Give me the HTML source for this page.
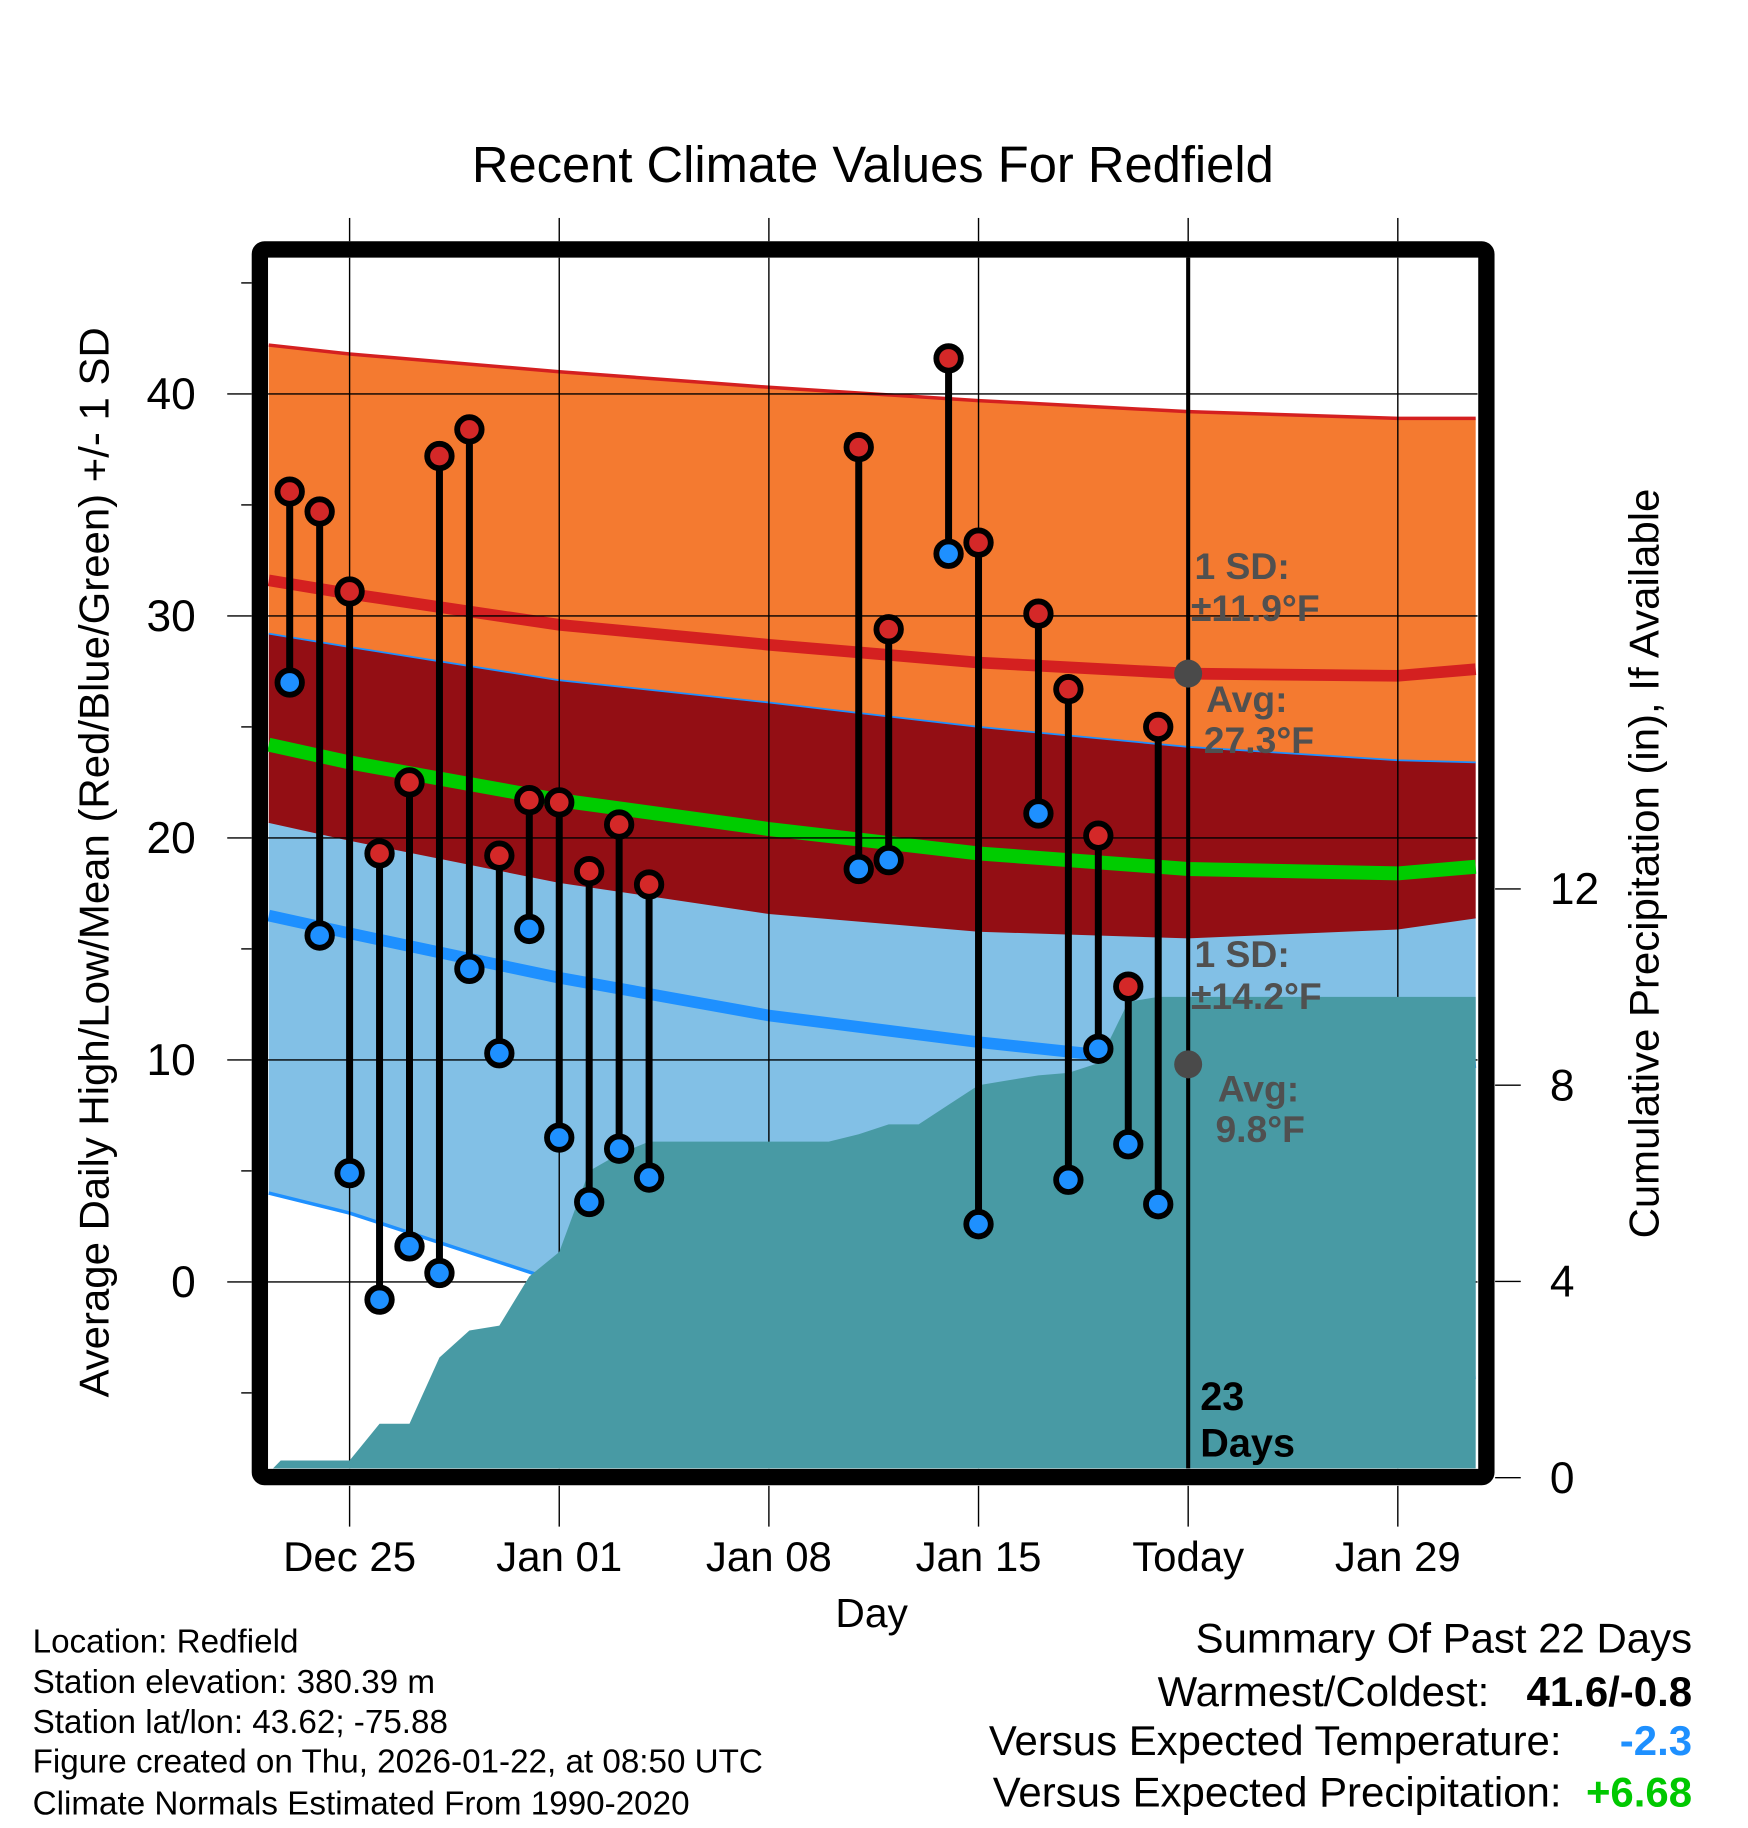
<!DOCTYPE html>
<html><head><meta charset="utf-8"><style>
html,body{margin:0;padding:0;background:#fff}
svg{display:block;font-family:"Liberation Sans",Arial,sans-serif}
</style></head><body>
<svg id="chart" width="1748" height="1828" viewBox="0 0 1500 1568.6" xmlns="http://www.w3.org/2000/svg">
<rect width="1500" height="1568.6" fill="#fff"/>
<text x="749" y="156" font-size="43.5" text-anchor="middle">Recent Climate Values For Redfield</text>
<g id="plot"></g>
<text transform="translate(93,740) rotate(-90)" font-size="36" text-anchor="middle">Average Daily High/Low/Mean (Red/Blue/Green) +/- 1 SD</text>
<text transform="translate(1423,741) rotate(-90)" font-size="36" text-anchor="middle">Cumulative Precipitation (in), If Available</text>
<text x="748" y="1396" font-size="35" text-anchor="middle">Day</text>
<g font-size="28.5">
<text x="28" y="1418">Location: Redfield</text>
<text x="28" y="1453">Station elevation: 380.39 m</text>
<text x="28" y="1487">Station lat/lon: 43.62; -75.88</text>
<text x="28" y="1521">Figure created on Thu, 2026-01-22, at 08:50 UTC</text>
<text x="28" y="1557">Climate Normals Estimated From 1990-2020</text>
</g>
<g font-size="36">
<text x="1452" y="1418" text-anchor="end">Summary Of Past 22 Days</text>
<text x="1278" y="1464" text-anchor="end">Warmest/Coldest:</text>
<text x="1452" y="1464" text-anchor="end" font-weight="bold">41.6/-0.8</text>
<text x="1340" y="1506" text-anchor="end">Versus Expected Temperature:</text>
<text x="1452" y="1506" text-anchor="end" font-weight="bold" fill="#1e90ff">-2.3</text>
<text x="1340" y="1550" text-anchor="end">Versus Expected Precipitation:</text>
<text x="1452" y="1550" text-anchor="end" font-weight="bold" fill="#00c800">+6.68</text>
</g>
</svg>
<script>
// ---- data ----
const dayLabels = ["Dec 25","Jan 01","Jan 08","Jan 15","Today","Jan 29"];
const labelDays = [0,7,14,21,28,35];
const obsDays = [-2,-1,0,1,2,3,4,5,6,7,8,9,10,17,18,20,21,23,24,25,26,27];
const highs = [35.6,34.7,31.1,19.3,22.5,37.2,38.4,19.2,21.7,21.6,18.5,20.6,17.9,37.6,29.4,41.6,33.3,30.1,26.7,20.1,13.3,25.0];
const lows  = [27.0,15.6,4.9,-0.8,1.6,0.4,14.1,10.3,15.9,6.5,3.6,6.0,4.7,18.6,19.0,32.8,2.6,21.1,4.6,10.5,6.2,3.5];
const normDays = [-2.7,0,7,14,21,28,35,37.6];
const hiPlusSD = [42.2,41.8,41.0,40.3,39.7,39.2,38.9,38.9];
const meanHi   = [31.6,31.0,29.6,28.7,27.9,27.4,27.3,27.6];
const hiMinusSD= [29.2,28.6,27.1,26.1,25.0,24.1,23.5,23.4];
const meanMid  = [24.2,23.4,21.7,20.4,19.3,18.6,18.4,18.7];
const loPlusSD = [20.7,19.9,18.0,16.6,15.8,15.5,15.9,16.4];
const meanLo   = [16.5,15.7,13.7,12.0,10.8,9.8,9.6,9.9];
const loMinusSD= [4.0,3.1,0.0,-2.0,-3.4,-4.4,-4.6,-4.3];
const precipDays = [-2.7,-2.3,0,1,2,3,4,5,6,7,8,9,10,16,17,18,19,20,21,22,23,24,25,26,27,37.6];
const precipVals = [0.1,0.35,0.35,1.1,1.1,2.45,3.0,3.1,4.1,4.6,6.25,6.6,6.85,6.85,7.0,7.2,7.2,7.6,8.0,8.1,8.2,8.25,8.45,9.7,9.8,9.8];
const yTicks = [0,10,20,30,40];
const y2Ticks = [0,4,8,12];

// ---- axes ----
const X = d => 300 + d*25.7;
const Y = v => 1100 - v*19.05;
const Y2 = p => 1268 - p*42.1;
const L=230,R=1268,T=221,B=1260;
const NS="http://www.w3.org/2000/svg";
const plot=document.getElementById('plot');
function mk(tag,attrs,parent){const e=document.createElementNS(NS,tag);for(const k in attrs)e.setAttribute(k,attrs[k]);(parent||plot).appendChild(e);return e;}
const defs=mk('defs',{});
const cp=mk('clipPath',{id:'clip'},defs);mk('rect',{x:L,y:T,width:R-L,height:B-T},cp);
const g=mk('g',{'clip-path':'url(#clip)'});


function line(arr,f){return normDays.map((d,i)=>X(d)+','+f(arr[i])).join(' ');}
function band(a,b,fill,name){const pts=line(a,Y)+' '+normDays.map((d,i)=>X(d)+','+Y(b[i])).reverse().join(' ');const p=mk('polygon',{points:pts,fill:fill},g);

}
band(hiPlusSD,hiMinusSD,'#f47a30','high-sd-band');
band(hiMinusSD,loPlusSD,'#930e14','overlap-band');
band(loPlusSD,loMinusSD,'#82c0e6','low-sd-band');
function pl(arr,col,w,name){const p=mk('polyline',{points:line(arr,Y),fill:'none',stroke:col,'stroke-width':w},g);

}
pl(hiPlusSD,'#d42020',3,'high-plus-sd-line');
pl(meanHi,'#d42020',10,'mean-high-line');
pl(hiMinusSD,'#1e90ff',1.5,'high-minus-sd-line');
pl(loPlusSD,'#930e14',1,'low-plus-sd-line');
pl(meanMid,'#00cc00',12,'mean-line');
pl(meanLo,'#1e90ff',10,'mean-low-line');
pl(loMinusSD,'#1e90ff',3,'low-minus-sd-line');
// gridlines
yTicks.forEach(v=>{mk('line',{x1:L,x2:R,y1:Y(v),y2:Y(v),stroke:'#000','stroke-width':1.2},g);});
labelDays.forEach(d=>{mk('line',{x1:X(d),x2:X(d),y1:T,y2:B,stroke:'#000','stroke-width':1.2},g);});
// precip
const pp=precipDays.map((d,i)=>X(d)+','+Y2(precipVals[i])).join(' ')+' '+X(37.6)+','+Y2(0)+' '+X(-2.7)+','+Y2(0);
const pa=mk('polygon',{points:pp,fill:'#489aa4'},g);


// today line
const tl=mk('line',{x1:X(28),x2:X(28),y1:T,y2:B,stroke:'#000','stroke-width':3.5});


// outside ticks
labelDays.forEach((d,i)=>{
 mk('line',{x1:X(d),x2:X(d),y1:187,y2:207,stroke:'#000','stroke-width':1.2});
 mk('line',{x1:X(d),x2:X(d),y1:1275,y2:1310,stroke:'#000','stroke-width':1.2});
 const t=mk('text',{x:X(d),y:1348,'font-size':36,'text-anchor':'middle'});t.textContent=dayLabels[i];
 
 
});
for(let v=-5;v<=45;v+=5){const major=v%10===0;mk('line',{x1:major?195:207,x2:216,y1:Y(v),y2:Y(v),stroke:'#000','stroke-width':1.2});}
yTicks.forEach(v=>{const t=mk('text',{x:168,y:Y(v)+13,'font-size':38,'text-anchor':'end'});t.textContent=v;
 
 });
y2Ticks.forEach(p=>{mk('line',{x1:1283,x2:1305,y1:Y2(p),y2:Y2(p),stroke:'#000','stroke-width':1.2});
 const t=mk('text',{x:1330,y:Y2(p)+13,'font-size':38});t.textContent=p;
 
 });
// frame
const fr=mk('rect',{x:223,y:214,width:1052.5,height:1053.5,fill:'none',stroke:'#000','stroke-width':14,rx:4});


// annotations
const ann=[[1025,497,'1 SD:'],[1022,533,'±11.9°F'],[1035,611,'Avg:'],[1033,646,'27.3°F'],[1025,830,'1 SD:'],[1022,866,'±14.2°F'],[1045,945,'Avg:'],[1043,980,'9.8°F']];
ann.forEach(a=>{const t=mk('text',{x:a[0],y:a[1],'font-size':32,'font-weight':'bold',fill:'#505050'});t.textContent=a[2];
 
 });
[meanHi[5],meanLo[5]].forEach(v=>{const c=mk('circle',{cx:X(28),cy:Y(v),r:12,fill:'#4a4a4a'});
 
 });
[[1030,1210,'23'],[1030,1250,'Days']].forEach(a=>{const t=mk('text',{x:a[0],y:a[1],'font-size':34,'font-weight':'bold'});t.textContent=a[2];
 
 });
// observations
obsDays.forEach((d,i)=>{
 const s=mk('line',{x1:X(d),x2:X(d),y1:Y(highs[i]),y2:Y(lows[i]),stroke:'#000','stroke-width':6});
 
 
 const h=mk('circle',{cx:X(d),cy:Y(highs[i]),r:10.5,fill:'#d42828',stroke:'#000','stroke-width':5});
 
 
 const l=mk('circle',{cx:X(d),cy:Y(lows[i]),r:10.5,fill:'#1e90ff',stroke:'#000','stroke-width':5});
 
 
});
</script>
</body></html>
